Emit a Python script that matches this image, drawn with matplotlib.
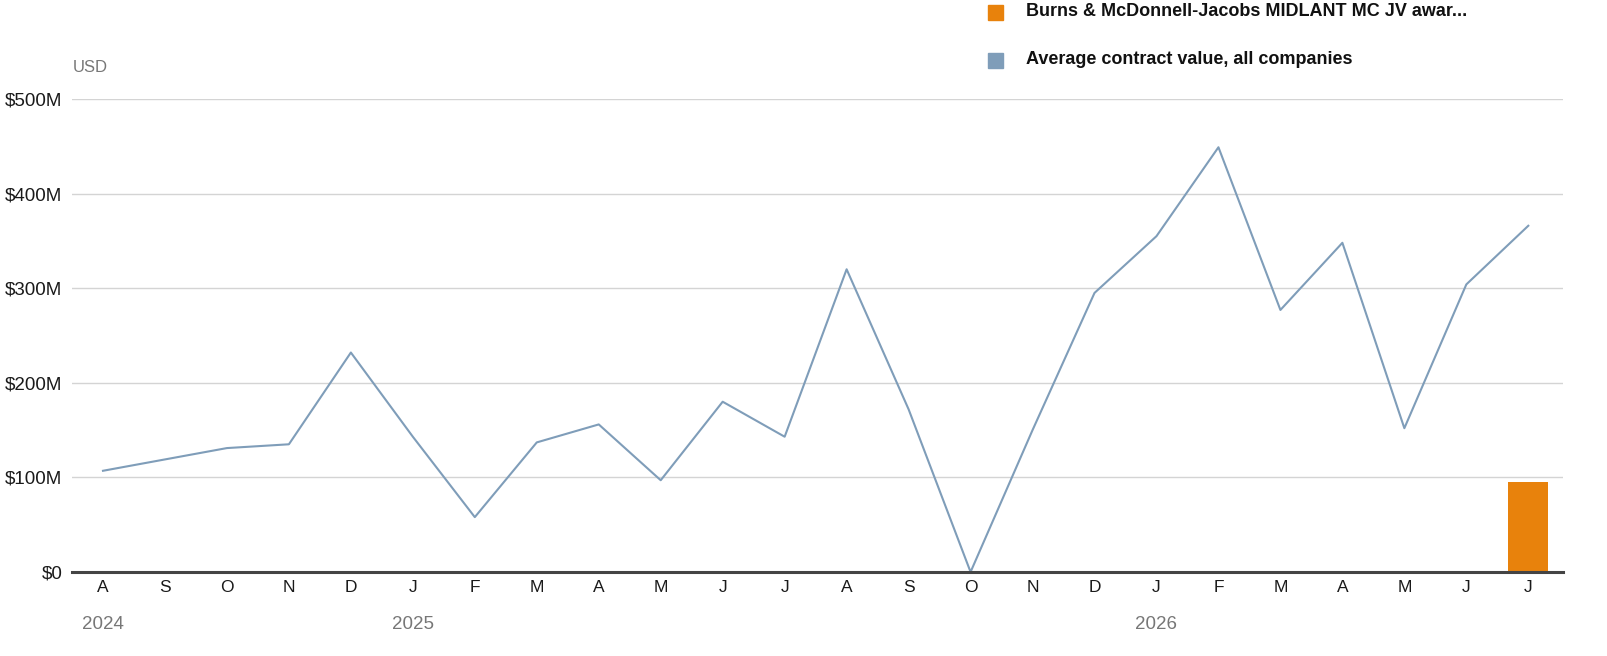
import matplotlib.pyplot as plt
import numpy as np

months = ["A", "S", "O", "N", "D", "J", "F", "M", "A", "M", "J", "J",
          "A", "S", "O", "N", "D", "J", "F", "M", "A", "M", "J", "J"]
avg_value = [107, 119, 131, 135, 232, 143, 58, 137, 156, 97, 180, 143,
             320, 172, 0, 150, 295, 355, 449, 277, 348, 152, 304, 366]
award_value = [0] * 23 + [95]
years = ["2024", "2025", "2026"]
year_pos = [0, 5, 17]
yticks = [0, 100, 200, 300, 400, 500]

plt.rcParams['font.family'] = ['Liberation Sans', 'DejaVu Sans']

fig = plt.figure(figsize=(16.08, 6.56), dpi=100)
ax = fig.add_axes([72/1608, 84/656, (1563-72)/1608, (572-99)/656])

x = np.arange(len(months))
ax.bar(x, award_value, width=0.65, color="#e8820c", zorder=3)
ax.plot(x, avg_value, color="#7f9db9", lw=1.5, zorder=4)

ax.set_xlim(-0.5, 23.56)
ax.set_ylim(0, 500)
ax.set_yticks(yticks)
ax.set_yticklabels(["$0" if v == 0 else f"${v}M" for v in yticks], fontsize=13.5, color="#1a1a1a")
ax.set_xticks(x)
ax.set_xticklabels(months, fontsize=12.5, color="#1a1a1a")
ax.tick_params(axis="both", length=0)
ax.tick_params(axis="y", pad=7)
ax.tick_params(axis="x", pad=6)
ax.grid(axis="y", color="#d4d4d4", lw=1, zorder=0)
for s in ["top", "right", "left"]:
    ax.spines[s].set_visible(False)
ax.spines["bottom"].set_color("#444444")
ax.spines["bottom"].set_linewidth(2.2)
ax.spines["bottom"].set_zorder(5)

for yr, p in zip(years, year_pos):
    ax.annotate(yr, xy=(p, 0), xycoords=("data", "axes fraction"), xytext=(0, -38),
                textcoords="offset points", ha="center", va="center", fontsize=13.5, color="#777777")

fig.text(73/1608, 1 - 68/656, "USD", fontsize=12, color="#777777", va="center")

# legend
fig.patches.append(plt.Rectangle((988/1608, 1 - 20/656), 15/1608, 15/656,
                                 transform=fig.transFigure, color="#e8820c"))
fig.text(1026/1608, 1 - 12/656, "Burns & McDonnell-Jacobs MIDLANT MC JV awar...",
         fontsize=13, fontweight="bold", color="#111111", va="center")
fig.patches.append(plt.Rectangle((988/1608, 1 - 68/656), 15/1608, 15/656,
                                 transform=fig.transFigure, color="#7f9db9"))
fig.text(1026/1608, 1 - 60/656, "Average contract value, all companies",
         fontsize=13, fontweight="bold", color="#111111", va="center")

fig.savefig("out.png", dpi=100, facecolor="white")
